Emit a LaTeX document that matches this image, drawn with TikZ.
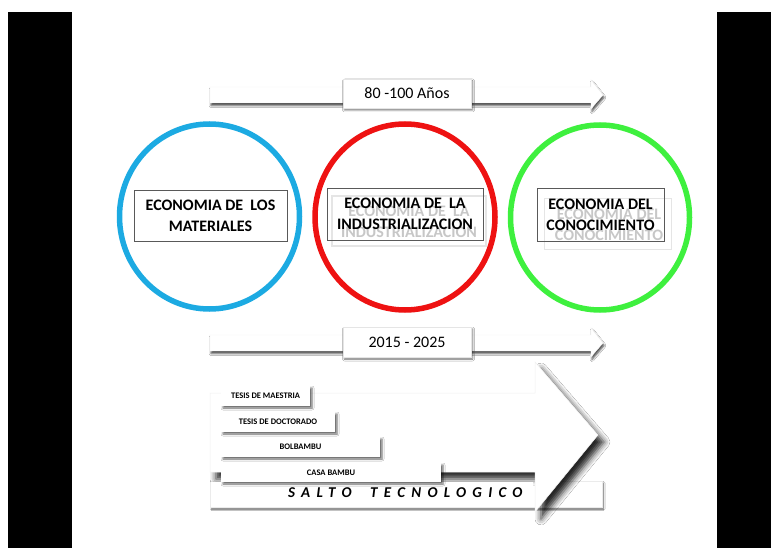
\documentclass[tikz,border=0pt]{standalone}
\usepackage{fontspec}
\setmainfont{Carlito}
\usetikzlibrary{shadows.blur}
\definecolor{blueC}{RGB}{28,170,226}
\definecolor{redC}{RGB}{238,18,18}
\definecolor{greenC}{RGB}{62,240,62}
\begin{document}
\begin{tikzpicture}[x=1pt,y=1pt,
  every node/.style={inner sep=0pt, outer sep=0pt},
  ellipseline/.style={line width=5.5pt},
  econbox/.style={draw=black!65, line width=0.8pt, align=center, font=\bfseries\fontsize{16}{21}\selectfont},
  ghosttext/.style={align=center, font=\bfseries\fontsize{16}{21}\selectfont, text=black!22},
  ghostbox/.style={draw=black!10, line width=1.5pt},
  labelbox/.style={fill=white, draw=black!10, line width=0.4pt, blur shadow={shadow xshift=1.5pt, shadow yshift=-2pt, shadow blur radius=2pt, shadow opacity=60}, font=\fontsize{16}{19}\selectfont},
  thinarrow/.style={fill=white, draw=black!5, line width=0.4pt, blur shadow={shadow xshift=1pt, shadow yshift=-2.5pt, shadow blur radius=2pt, shadow opacity=75}},
  bigarrow/.style={fill=white, draw=black!6, line width=0.5pt, blur shadow={shadow xshift=6pt, shadow yshift=-7pt, shadow blur radius=6pt, shadow opacity=85}},
  smallbox/.style={fill=white, blur shadow={shadow xshift=2pt, shadow yshift=-2pt, shadow blur radius=2pt, shadow opacity=60}, font=\bfseries\fontsize{8.5}{10}\selectfont, minimum height=20pt},
  barbox/.style={fill=white, draw=black!8, line width=0.4pt, blur shadow={shadow xshift=1.5pt, shadow yshift=-2pt, shadow blur radius=1.5pt, shadow opacity=60}},
]
\useasboundingbox (0,0) rectangle (771,-548);
\fill[white] (0,0) rectangle (771,-548);
\fill[black] (8,-12) rectangle (72,-548);
\fill[black] (717,-12) rectangle (771,-548);

% top arrow
\path[thinarrow] (210,-87) -- (591,-87) -- (591,-80) -- (603,-95) -- (591,-109) -- (591,-103) -- (210,-103) -- cycle;
\node[labelbox, minimum width=128pt, minimum height=29pt] (years) at (407,-93.5) {80 -100 Años};

% ellipses
\draw[ellipseline, blueC] (209.5,-216.5) ellipse [x radius=90pt, y radius=92.5pt];
\draw[ellipseline, redC] (405,-217) ellipse [x radius=90pt, y radius=93pt];
\draw[ellipseline, greenC] (600,-217.5) ellipse [x radius=89.5pt, y radius=92.5pt];

% blue box
\node[econbox, minimum width=153pt, minimum height=51pt] (materiales) at (210.5,-215.5) {ECONOMIA DE \ LOS\\MATERIALES};

% red box
\node[ghostbox, minimum width=154pt, minimum height=50pt] (indghostbox) at (409,-221) {};
\node[ghosttext] (indghost) at (409,-222) {ECONOMIA DE \ LA\\INDUSTRIALIZACION};
\node[econbox, minimum width=156pt, minimum height=52pt] (industrial) at (405,-214) {ECONOMIA DE \ LA\\INDUSTRIALIZACION};

% green box
\node[ghostbox, minimum width=127pt, minimum height=51pt] (conghostbox) at (608,-224) {};
\node[ghosttext] (conghost) at (609,-225) {ECONOMIA DEL\\CONOCIMIENTO};
\node[econbox, minimum width=127pt, minimum height=53pt] (conocimiento) at (600.5,-214.5) {ECONOMIA DEL\\CONOCIMIENTO};

% second arrow
\path[thinarrow] (210,-335) -- (591,-335) -- (591,-328) -- (603,-343) -- (591,-357) -- (591,-351) -- (210,-351) -- cycle;
\node[labelbox, minimum width=128pt, minimum height=30pt] (period) at (407,-342) {2015 - 2025};

% bottom bar and big arrow
\path[barbox] (210,-481) rectangle (602,-507);
\path[bigarrow] (210,-393) -- (535,-393) -- (535,-362) -- (598,-435) -- (535,-512) -- (535,-472) -- (210,-472) -- cycle;
\fill[white] (210.5,-482) rectangle (533,-506.5);
\node[anchor=base west, font=\bfseries\itshape\fontsize{15}{18}\selectfont\addfontfeature{LetterSpace=42}] (salto) at (288,-497) {SALTO\hspace{9pt} TECNOLOGICO};

% small boxes
\node[smallbox, minimum width=89pt] (maestria) at (265.5,-396) {TESIS DE MAESTRIA};
\node[smallbox, minimum width=114pt] (doctorado) at (278,-422) {TESIS DE DOCTORADO};
\node[smallbox, minimum width=159pt] (bolbambu) at (300.5,-447) {BOLBAMBU};
\node[smallbox, minimum width=220pt, minimum height=19pt] (casabambu) at (331,-472.5) {CASA BAMBU};
\end{tikzpicture}
\end{document}
